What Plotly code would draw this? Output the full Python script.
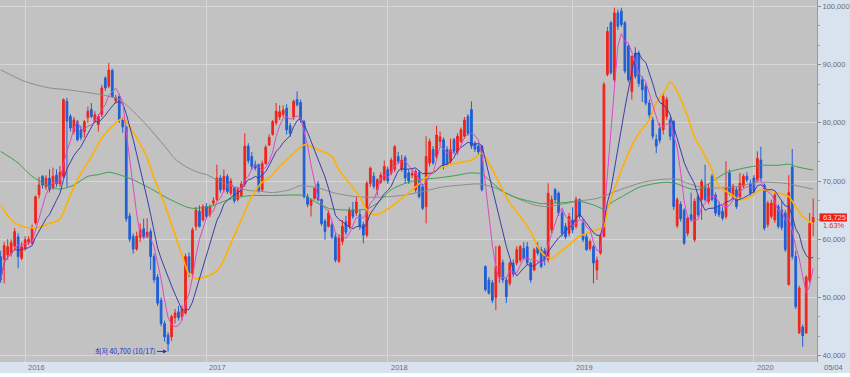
import numpy as np
import pandas as pd
import plotly.graph_objects as go

# ---------------- data (weekly candles, values in thousands of won) ----------------
first_week = "2015-11-16"

opens = [
    57.0, 56.5, 57.3, 57.6, 58.8, 60.4, 56.7, 58.5, 59.5, 59.3,
    62.8, 67.6, 70.8, 69.0, 70.5, 68.8, 71.0, 69.5, 70.8, 83.7,
    81.1, 78.5, 80.2, 78.8, 78.5, 80.9, 82.3, 80.2, 79.7, 81.4,
    87.7, 86.3, 89.0, 83.8, 84.5, 80.5, 79.3, 64.0, 60.5, 58.3,
    60.3, 61.8, 60.5, 61.3, 57.0, 53.5, 49.5, 45.5, 43.5, 43.2,
    46.5, 47.5, 46.7, 47.3, 57.0, 54.1, 62.2, 64.8, 63.3, 65.6,
    64.2, 66.2, 66.8, 70.5, 68.5, 70.8, 67.9, 68.8, 66.8, 67.5,
    69.5, 76.0, 74.2, 72.8, 72.8, 68.5, 73.0, 76.2, 78.0, 80.0,
    81.0, 81.4, 82.5, 79.5, 81.0, 84.0, 83.5, 80.2, 67.3, 65.8,
    67.0, 69.5, 66.8, 63.1, 62.2, 62.5, 60.4, 56.2, 59.6, 63.0,
    62.2, 65.0, 64.5, 64.2, 62.5, 60.7, 69.6, 70.8, 68.5, 69.8,
    70.2, 72.0, 71.4, 72.0, 74.2, 72.0, 74.0, 71.4, 71.0, 68.5,
    71.4, 69.0, 65.6, 73.1, 75.4, 74.2, 76.8, 77.1, 75.4, 73.4,
    77.1, 75.0, 76.8, 77.7, 81.1, 82.3, 76.5, 76.0, 76.0, 55.3,
    53.0, 52.5, 50.0, 53.5, 56.0, 53.0, 52.4, 55.9, 55.9, 56.4,
    58.4, 58.7, 55.9, 54.7, 58.7, 58.2, 58.0, 56.5, 61.6, 68.5,
    67.9, 64.5, 62.2, 61.0, 63.3, 62.2, 66.8, 62.8, 60.4, 58.4,
    58.7, 54.7, 57.6, 60.5, 88.3, 97.2, 87.4, 98.9, 99.2, 97.2,
    93.2, 85.4, 92.0, 92.0, 87.4, 86.3, 83.4, 80.5, 77.1, 79.0,
    78.8, 81.1, 80.5, 80.2, 62.3, 66.0, 65.0, 61.0, 64.2, 59.9,
    67.3, 66.8, 69.1, 66.5, 70.8, 67.6, 65.6, 64.8, 63.9, 71.4,
    67.3, 68.5, 67.3, 69.1, 70.8, 69.6, 70.5, 70.2, 73.6, 69.3,
    62.5, 63.9, 63.3, 65.6, 65.0, 64.5, 52.2, 72.4, 57.0, 43.9,
    44.9, 43.9, 52.9, 62.9,
]
highs = [
    58.0, 59.5, 60.0, 60.0, 61.9, 61.0, 59.5, 60.5, 60.5, 62.5,
    67.5, 70.7, 71.0, 71.0, 72.0, 72.3, 72.0, 72.6, 84.2, 84.3,
    81.5, 81.0, 80.5, 79.5, 80.5, 82.8, 83.4, 82.0, 81.5, 86.5,
    88.0, 90.3, 89.3, 84.8, 85.0, 81.0, 79.5, 64.5, 61.0, 61.3,
    62.7, 63.5, 63.6, 61.8, 57.5, 54.0, 50.0, 46.0, 44.0, 47.0,
    48.0, 48.5, 48.6, 57.5, 57.7, 62.0, 65.5, 65.8, 66.0, 66.2,
    66.0, 67.2, 72.8, 71.0, 72.0, 71.2, 70.5, 69.0, 69.0, 70.0,
    78.2, 76.5, 75.0, 73.5, 73.0, 73.5, 76.2, 78.0, 80.5, 83.4,
    83.0, 83.0, 83.2, 80.0, 84.0, 85.4, 84.0, 80.5, 67.8, 67.0,
    69.0, 70.0, 67.0, 63.5, 65.0, 63.0, 61.0, 60.8, 63.3, 64.0,
    65.5, 66.4, 67.3, 65.0, 63.0, 70.0, 72.5, 71.5, 70.5, 71.5,
    73.5, 72.5, 74.0, 76.2, 75.0, 74.5, 74.4, 72.0, 72.0, 72.0,
    71.8, 69.5, 77.7, 77.3, 76.0, 79.5, 78.5, 77.5, 76.0, 77.3,
    77.4, 78.2, 79.2, 81.0, 81.5, 83.7, 76.8, 76.4, 76.2, 55.5,
    53.5, 53.0, 58.8, 59.0, 56.5, 53.5, 56.2, 56.5, 58.8, 59.0,
    59.5, 59.5, 56.2, 58.5, 59.5, 58.7, 58.5, 69.6, 67.5, 68.8,
    68.2, 65.0, 62.8, 64.5, 65.5, 67.3, 67.0, 63.5, 61.0, 60.0,
    59.0, 57.0, 61.0, 87.0, 96.5, 97.5, 99.8, 99.5, 99.8, 97.5,
    93.5, 91.6, 93.0, 92.4, 88.0, 86.8, 84.0, 81.0, 78.0, 80.0,
    85.0, 84.5, 81.0, 80.5, 67.2, 66.5, 65.3, 64.0, 68.0, 67.0,
    67.8, 70.3, 72.8, 69.5, 71.2, 68.0, 66.5, 65.5, 73.4, 72.0,
    69.5, 69.0, 71.4, 71.2, 71.5, 70.2, 71.0, 75.1, 75.9, 69.6,
    66.6, 66.8, 68.0, 66.0, 66.5, 65.0, 71.0, 75.5, 58.0, 52.0,
    45.3, 53.8, 64.5, 67.0,
]
lows = [
    52.5, 52.4, 56.5, 57.0, 58.0, 55.0, 56.4, 58.0, 59.0, 59.0,
    62.5, 67.0, 68.7, 68.5, 68.0, 68.5, 69.0, 69.0, 70.5, 69.0,
    78.5, 78.0, 76.8, 77.0, 77.5, 80.0, 80.8, 80.0, 78.5, 81.0,
    85.5, 86.0, 84.3, 83.3, 80.0, 78.3, 63.0, 59.5, 57.5, 58.0,
    59.5, 60.0, 60.2, 54.7, 52.5, 48.5, 45.0, 42.4, 40.7, 42.5,
    45.5, 46.0, 46.0, 47.0, 53.5, 53.8, 61.5, 62.0, 63.0, 63.5,
    63.8, 65.8, 66.5, 68.0, 68.0, 67.8, 67.5, 66.2, 66.5, 67.2,
    69.0, 73.0, 72.0, 71.8, 68.0, 68.2, 72.8, 76.0, 77.8, 79.6,
    80.5, 81.0, 78.0, 77.6, 80.5, 82.8, 80.0, 67.0, 65.5, 63.9,
    66.8, 66.5, 62.3, 59.9, 62.0, 60.0, 56.0, 55.9, 59.0, 60.7,
    61.8, 63.5, 64.0, 61.6, 59.3, 60.3, 69.0, 68.7, 67.5, 69.5,
    69.9, 69.5, 71.0, 71.5, 73.0, 71.6, 69.5, 69.5, 70.5, 68.0,
    67.0, 65.0, 62.7, 72.5, 72.8, 73.8, 76.0, 72.0, 72.5, 73.0,
    74.8, 74.5, 76.5, 77.3, 77.8, 75.5, 75.0, 74.5, 68.2, 51.0,
    50.5, 49.0, 47.8, 52.5, 52.5, 49.0, 52.0, 53.5, 55.5, 56.0,
    56.4, 55.5, 52.5, 54.5, 57.2, 55.0, 55.5, 56.0, 61.0, 66.3,
    64.0, 60.5, 60.0, 60.5, 61.0, 61.8, 63.5, 59.5, 58.0, 58.0,
    52.4, 53.0, 57.3, 60.3, 88.0, 88.3, 87.0, 96.0, 96.5, 88.5,
    87.0, 84.0, 87.6, 86.2, 83.6, 83.0, 80.8, 77.2, 74.8, 76.5,
    78.0, 80.5, 77.0, 65.0, 61.9, 63.0, 59.0, 60.5, 63.0, 59.5,
    63.8, 63.3, 66.5, 66.0, 66.5, 64.0, 63.8, 63.2, 63.5, 67.5,
    66.8, 65.2, 67.0, 68.8, 69.8, 67.5, 67.8, 69.8, 70.0, 61.5,
    62.0, 63.5, 62.8, 61.8, 61.5, 57.8, 52.0, 56.5, 48.0, 43.7,
    41.5, 43.7, 52.5, 60.5,
]
closes = [
    53.0, 58.9, 58.7, 59.4, 61.3, 57.0, 58.7, 59.9, 60.0, 61.9,
    67.3, 69.3, 69.3, 70.5, 68.5, 70.8, 69.5, 71.5, 84.0, 80.3,
    79.1, 80.5, 77.1, 77.5, 80.2, 82.0, 81.1, 81.4, 81.1, 86.0,
    86.0, 89.1, 84.5, 84.3, 80.5, 79.3, 63.5, 60.0, 58.3, 60.5,
    61.6, 60.5, 61.2, 57.0, 53.0, 49.0, 45.5, 43.2, 42.0, 46.7,
    47.3, 46.5, 48.0, 57.0, 54.1, 61.6, 65.0, 62.2, 65.6, 63.9,
    65.6, 66.6, 70.5, 68.5, 70.8, 68.2, 70.0, 66.6, 68.5, 69.5,
    76.0, 73.5, 72.5, 72.2, 68.3, 73.0, 75.8, 77.5, 80.2, 82.0,
    81.9, 82.2, 78.8, 78.2, 83.7, 83.1, 80.5, 67.3, 66.0, 66.8,
    68.7, 66.8, 62.7, 61.3, 64.5, 60.4, 56.4, 60.2, 62.2, 61.2,
    65.0, 63.9, 66.4, 62.2, 60.7, 69.6, 72.2, 69.1, 70.2, 71.0,
    72.5, 70.0, 73.6, 75.9, 73.4, 73.6, 70.5, 70.0, 71.3, 71.6,
    67.3, 65.3, 74.2, 76.8, 73.1, 77.9, 77.6, 72.5, 72.8, 75.4,
    75.1, 77.7, 78.8, 80.5, 78.2, 76.0, 75.5, 75.0, 68.5, 51.3,
    50.7, 49.5, 55.3, 58.7, 53.0, 50.1, 55.9, 54.0, 58.2, 58.7,
    56.7, 55.9, 53.0, 58.2, 57.6, 55.3, 56.5, 67.9, 66.8, 66.8,
    64.5, 61.0, 60.4, 63.9, 61.6, 66.8, 63.9, 59.9, 58.2, 59.6,
    55.9, 56.4, 60.5, 86.6, 95.7, 88.6, 98.9, 96.6, 96.9, 88.9,
    87.4, 91.4, 88.0, 86.8, 85.7, 83.4, 81.4, 77.7, 76.0, 77.0,
    84.5, 84.0, 77.7, 65.6, 66.8, 63.5, 59.3, 63.6, 63.3, 66.5,
    64.2, 69.9, 66.8, 68.8, 66.8, 64.5, 64.2, 63.6, 68.8, 67.9,
    69.1, 65.6, 69.6, 70.8, 70.2, 67.9, 68.2, 73.9, 70.5, 61.9,
    66.2, 66.2, 67.6, 62.2, 62.0, 58.2, 68.0, 57.0, 48.4, 51.6,
    43.4, 53.5, 62.7, 63.725,
]

# moving averages (week index -> value, thousands)
ma20_idx = [0, 3, 6, 10, 14, 17, 19, 22, 26, 29, 33, 35, 36, 39, 42, 44, 47, 49, 52, 54,
            56, 58, 61, 63, 66, 69, 72, 75, 77, 80, 83, 87, 91, 95, 97, 100, 103, 105, 107, 109,
            112, 116, 119, 123, 127, 131, 135, 138, 140, 143, 146, 149, 152, 154, 156, 158, 160, 163, 166, 168,
            171, 173, 174, 177, 180, 183, 186, 188, 191, 192, 194, 197, 199, 201, 204, 206, 209, 212, 215, 218,
            221, 224, 226, 228, 230, 232, 233]
ma20_val = [65.9, 63.3, 62.2, 61.9, 62.7, 63.4, 66.2, 70.2, 74.2, 77.4, 80.0, 80.8, 80.2, 77.4, 74.0, 70.5, 66.0, 62.5, 57.3, 54.0,
            53.2, 53.4, 54.1, 55.3, 59.3, 63.3, 67.3, 69.8, 70.5, 72.5, 74.2, 76.2, 75.4, 74.2, 71.9, 69.6, 67.3, 65.0, 64.2, 64.5,
            65.6, 67.5, 69.0, 71.1, 72.5, 73.1, 73.6, 74.8, 73.1, 69.6, 66.2, 63.9, 61.3, 58.7, 57.2, 56.7, 57.6, 59.0, 60.5, 61.0,
            61.6, 62.2, 65.0, 70.2, 74.8, 78.2, 80.5, 83.4, 86.0, 87.1, 85.4, 81.1, 77.5, 75.4, 71.9, 69.1, 67.9, 66.8, 67.3, 68.5,
            68.2, 67.8, 67.3, 65.6, 63.9, 63.0, 62.7]

ma60_idx = [0, 5, 9, 14, 17, 21, 25, 28, 31, 34, 38, 43, 48, 53, 55, 60, 64, 67, 72, 78,
            87, 90, 94, 100, 105, 108, 112, 116, 120, 125, 130, 135, 138, 140, 144, 148, 152, 155, 158, 162,
            166, 170, 173, 175, 179, 183, 187, 191, 194, 197, 200, 204, 208, 213, 218, 223, 226, 228, 231, 233]
ma60_val = [75.1, 73.1, 70.8, 69.1, 68.6, 69.3, 70.8, 71.1, 71.5, 71.1, 70.2, 68.7, 67.0, 65.6, 65.3, 65.6, 66.5, 67.1, 67.5, 67.5,
            67.5, 66.5, 65.3, 65.0, 65.2, 66.2, 68.5, 69.6, 70.2, 70.5, 70.9, 71.4, 71.2, 70.2, 68.2, 67.1, 66.5, 66.1, 66.2, 66.3,
            66.5, 65.9, 65.2, 66.2, 67.6, 68.9, 69.5, 69.8, 69.5, 68.8, 68.5, 69.9, 71.4, 72.2, 72.7, 72.7, 72.9, 72.5, 72.1, 71.9]

ma120_idx = [0, 7, 14, 19, 25, 30, 34, 38, 42, 47, 50, 53, 57, 59, 63, 67, 71, 75, 78, 83,
             86, 91, 96, 102, 106, 111, 116, 121, 127, 133, 137, 141, 145, 149, 153, 156, 160, 165, 171, 175,
             180, 185, 190, 194, 197, 201, 205, 211, 217, 223, 226, 229, 233]
ma120_val = [89.1, 87.1, 86.0, 85.7, 85.2, 84.7, 84.0, 82.0, 79.5, 76.0, 73.8, 72.5, 71.4, 71.1, 69.9, 69.0, 68.4, 68.2, 68.0, 68.5,
             69.2, 68.8, 67.9, 67.3, 67.2, 67.3, 67.6, 68.2, 69.0, 69.35, 69.5, 69.0, 67.9, 66.8, 65.9, 65.6, 65.9, 66.5, 67.0, 67.9,
             69.0, 69.9, 70.3, 70.3, 69.6, 68.9, 68.8, 69.0, 69.8, 69.7, 69.5, 69.1, 68.6]

low_label = "최저 40,700 (10/17)"
last_date_label = "05/04"

# ---------------- build ----------------
K = 1000.0
n = len(closes)
t0 = pd.Timestamp(first_week)
dates = [t0 + pd.Timedelta(weeks=i) for i in range(n)]

o = np.array(opens) * K
h = np.array(highs) * K
l = np.array(lows) * K
c = np.array(closes) * K

ma5 = pd.Series(c).rolling(5, min_periods=1).mean()
ma10 = pd.Series(c).rolling(10, min_periods=1).mean()

def wk(idx):
    return [t0 + pd.Timedelta(weeks=i) for i in idx]

RED = "#f2231a"
BLUE = "#1f5fd6"

fig = go.Figure()
fig.add_trace(go.Candlestick(
    x=dates, open=o, high=h, low=l, close=c,
    increasing=dict(line=dict(color=RED, width=1), fillcolor=RED),
    decreasing=dict(line=dict(color=BLUE, width=1), fillcolor=BLUE),
    whiskerwidth=0, showlegend=False, hoverinfo="skip"))

fig.add_trace(go.Scatter(x=wk(ma120_idx), y=np.array(ma120_val) * K, mode="lines",
                         line=dict(color="#8c8c8c", width=1, shape="spline", smoothing=0.7),
                         showlegend=False, hoverinfo="skip"))
fig.add_trace(go.Scatter(x=wk(ma60_idx), y=np.array(ma60_val) * K, mode="lines",
                         line=dict(color="#38a24c", width=1, shape="spline", smoothing=0.7),
                         showlegend=False, hoverinfo="skip"))
fig.add_trace(go.Scatter(x=wk(ma20_idx), y=np.array(ma20_val) * K, mode="lines",
                         line=dict(color="#ffb000", width=1.6, shape="spline", smoothing=0.7),
                         showlegend=False, hoverinfo="skip"))
fig.add_trace(go.Scatter(x=dates, y=ma10, mode="lines",
                         line=dict(color="#3c3cae", width=1),
                         showlegend=False, hoverinfo="skip"))
fig.add_trace(go.Scatter(x=dates, y=ma5, mode="lines",
                         line=dict(color="#e048c8", width=1),
                         showlegend=False, hoverinfo="skip"))

# year gridlines: first weekly candle of each calendar year
years = sorted(set(d.year for d in dates))
year_ticks = []
for y in years:
    cand = [d for d in dates if d.year == y]
    if cand and cand[0] != dates[0]:
        year_ticks.append(cand[0])

W, H = 850, 377
ML, MR, MT, MB = 0, 30, 0, 15
PW, PH = W - ML - MR, H - MT - MB

x0 = t0 - pd.Timedelta(days=0.2 * 7)
x1 = t0 + pd.Timedelta(days=(n - 1 + 1.1) * 7)

yticks = list(range(40000, 100001, 10000))
fig.update_layout(
    width=W, height=H,
    margin=dict(l=ML, r=MR, t=MT, b=MB, pad=0),
    paper_bgcolor="#d9e3f0",
    plot_bgcolor="#c2c2c2",
    showlegend=False,
    xaxis=dict(type="date", range=[x0, x1], rangeslider=dict(visible=False),
               tickvals=year_ticks, showticklabels=False, ticks="",
               showgrid=True, gridcolor="#d6d6d6", gridwidth=1, zeroline=False,
               showline=False, fixedrange=True),
    yaxis=dict(side="right", range=[38880, 101120], tickvals=yticks,
               ticktext=[f"{v:,}" for v in yticks],
               tickfont=dict(family="Liberation Sans, Arial, sans-serif", size=7.5, color="#6e6e6e"),
               ticks="outside", ticklen=3, tickcolor="#8a8a8a",
               minor=dict(tick0=40000, dtick=10000 / 3, ticks="outside", ticklen=2, tickcolor="#9a9a9a", showgrid=False),
               showgrid=True, gridcolor="#d6d6d6", gridwidth=1, zeroline=False,
               showline=True, linecolor="#9a9a9a", linewidth=1, fixedrange=True),
)

shapes = []
# white strip at the very bottom
shapes.append(dict(type="rect", xref="paper", yref="paper", x0=-0.01, x1=W / PW + 0.01,
                   y0=-(MB + 2) / PH, y1=-(MB - 4) / PH, fillcolor="#ffffff", line=dict(width=0), layer="above"))
# last price box
last = c[-1]
box_half = 0.7 * K
shapes.append(dict(type="rect", xref="paper", yref="y", x0=(PW + 2.5) / PW, x1=W / PW,
                   y0=last - box_half, y1=last + box_half, fillcolor="#f01e14", line=dict(width=0), layer="above"))
fig.update_layout(shapes=shapes)

ann = []
lab_font = dict(family="Liberation Sans, Arial, sans-serif", size=7.5, color="#6e6e6e")
for d in year_ticks:
    ann.append(dict(x=d, y=-5.5 / PH, xref="x", yref="paper", text=str(d.year), showarrow=False,
                    xanchor="left", yanchor="middle", xshift=1, font=lab_font))
ann.append(dict(x=(PW + 5) / PW, y=-5.5 / PH, xref="paper", yref="paper", text=last_date_label,
                showarrow=False, xanchor="left", yanchor="middle", font=lab_font))
pct = (closes[-1] / closes[-2] - 1) * 100
ann.append(dict(x=(PW + 4) / PW, y=last, xref="paper", yref="y", text=f"{last:,.0f}", showarrow=False,
                xanchor="left", yanchor="middle",
                font=dict(family="Liberation Sans, Arial, sans-serif", size=7.5, color="#ffe8e8")))
ann.append(dict(x=(PW + 4) / PW, y=last - 1.35 * K, xref="paper", yref="y", text=f"{pct:.2f}%", showarrow=False,
                xanchor="left", yanchor="middle",
                font=dict(family="Liberation Sans, Arial, sans-serif", size=7.5, color="#f01e14")))
# lowest point marker
imin = int(np.argmin(l))
ann.append(dict(x=dates[imin], y=l[imin], xref="x", yref="y", text=low_label, showarrow=True,
                ax=-11, ay=0, xanchor="right", yanchor="middle", arrowhead=2, arrowsize=0.8,
                arrowwidth=1, arrowcolor="#2b2bd0", standoff=1,
                font=dict(family="Noto Sans CJK KR, sans-serif", size=7, color="#2b2bd0")))
fig.update_layout(annotations=ann)

fig.write_html("out.html", include_plotlyjs=True, config={"displayModeBar": False},
               post_script="document.body.style.margin='0';document.body.style.overflow='hidden';")
